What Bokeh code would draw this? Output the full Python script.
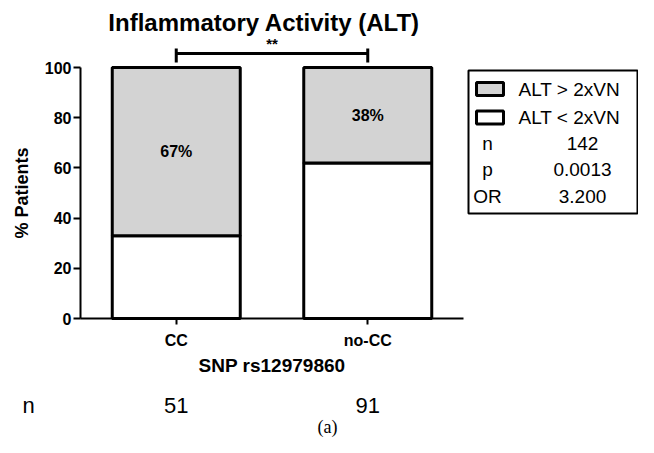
import numpy as np
from bokeh.plotting import figure
from bokeh.models import Range1d, FixedTicker, LinearAxis, ColumnDataSource
from bokeh.core.properties import value
from bokeh.embed import file_html
from bokeh.resources import INLINE

# ---------------- data ----------------
categories = ["CC", "no-CC"]
alt_high_pct = [67, 38]      # % patients ALT > 2xVN
alt_low_pct = [33, 62]       # % patients ALT < 2xVN
n_patients = [51, 91]
y_ticks = [0, 20, 40, 60, 80, 100]
legend_labels = ["ALT > 2xVN", "ALT < 2xVN"]
stats_labels = ["n", "p", "OR"]
stats_values = ["142", "0.0013", "3.200"]
title_text = "Inflammatory Activity  (ALT)"
x_title = "SNP rs12979860"
y_title = "% Patients"
signif_text = "**"
caption_text = "(a)"

# ---------------- geometry (figure pixels) ----------------
W, H = 638, 437
X0_PX, Y0_PX = 80, 318          # pixel of data origin
PX_PER_X, PX_PER_Y = 191.5, 2.51


def dx(px):
    return (px - X0_PX) / PX_PER_X


def dy(py):
    return (Y0_PX - py) / PX_PER_Y


FONT = "Liberation Sans"
GREY = "#d3d3d3"

xs = list(np.arange(len(categories)) + 0.5)
x_max = float(len(categories))

p = figure(width=W, height=H, x_range=Range1d(dx(0), dx(W)), y_range=Range1d(dy(H), dy(0)),
           output_backend="svg", toolbar_location=None, min_border=0,
           x_axis_type=None, y_axis_type=None, outline_line_color=None,
           background_fill_color="white", border_fill_color="white")

# axes at fixed locations
xaxis = LinearAxis(fixed_location=0, bounds=(0, x_max), ticker=FixedTicker(ticks=xs),
                   major_label_overrides={float(x): c for x, c in zip(xs, categories)},
                   axis_label=x_title)
xaxis.axis_line_width = 2
xaxis.major_tick_line_width = 2
xaxis.major_tick_out = 6
xaxis.major_tick_in = 0
xaxis.minor_tick_out = 0
xaxis.minor_tick_in = 0
xaxis.major_label_standoff = 7
xaxis.major_label_text_font = FONT
xaxis.major_label_text_font_style = "bold"
xaxis.major_label_text_font_size = "16px"
xaxis.major_label_text_color = "black"
xaxis.axis_label_text_font = FONT
xaxis.axis_label_text_font_style = "bold"
xaxis.axis_label_text_font_size = "19px"
xaxis.axis_label_text_color = "black"
xaxis.axis_label_standoff = 3
p.add_layout(xaxis, "below")

yaxis = LinearAxis(fixed_location=0, bounds=(0, 100), ticker=FixedTicker(ticks=y_ticks),
                   axis_label=y_title)
yaxis.axis_line_width = 2
yaxis.major_tick_line_width = 2
yaxis.major_tick_out = 7
yaxis.major_tick_in = 0
yaxis.minor_tick_out = 0
yaxis.minor_tick_in = 0
yaxis.major_label_standoff = 2
yaxis.major_label_text_font = FONT
yaxis.major_label_text_font_style = "bold"
yaxis.major_label_text_font_size = "16px"
yaxis.major_label_text_color = "black"
yaxis.axis_label_text_font = FONT
yaxis.axis_label_text_font_style = "bold"
yaxis.axis_label_text_font_size = "18px"
yaxis.axis_label_text_color = "black"
yaxis.axis_label_standoff = 10
p.add_layout(yaxis, "left")

# stacked bars
totals = [lo + hi for lo, hi in zip(alt_low_pct, alt_high_pct)]
src = ColumnDataSource(dict(x=xs, low=alt_low_pct, high=alt_high_pct, total=totals,
                            label=[f"{h}%" for h in alt_high_pct],
                            label_y=[lo + hi / 2 for lo, hi in zip(alt_low_pct, alt_high_pct)]))
BAR_W = 128 / PX_PER_X
p.vbar(x="x", width=BAR_W, bottom=0, top="low", source=src,
       fill_color="white", line_color="black", line_width=3)
p.vbar(x="x", width=BAR_W, bottom="low", top="total", source=src,
       fill_color=GREY, line_color="black", line_width=3)
p.text(x="x", y="label_y", text="label", source=src, text_font=value(FONT),
       text_font_style="bold", text_font_size="16px", text_align="center",
       text_baseline="middle", text_color="black")

# significance bracket between the two groups
yb, ylo, yhi = dy(53), dy(62), dy(48)
p.segment(x0=[xs[0], xs[0], xs[1]], y0=[yb, ylo, ylo],
          x1=[xs[1], xs[0], xs[1]], y1=[yb, yhi, yhi], line_color="black", line_width=3)
p.text(x=[(xs[0] + xs[1]) / 2], y=[dy(51)], text=[signif_text], text_font=value(FONT),
       text_font_style="bold", text_font_size="15px", text_align="center",
       text_baseline="bottom", text_color="black")

# title
p.text(x=[dx(267)], y=[dy(22)], text=[title_text], text_font=value(FONT),
       text_font_style="bold", text_font_size="24px", text_align="center",
       text_baseline="middle", text_color="black")

# n row below the axis
p.text(x=[dx(28)], y=[dy(405)], text=["n"], text_font=value(FONT),
       text_font_size="22px", text_align="center", text_baseline="middle", text_color="black")
p.text(x=xs, y=[dy(405)] * len(xs), text=[str(n) for n in n_patients], text_font=value(FONT),
       text_font_size="22px", text_align="center", text_baseline="middle", text_color="black")

# caption
p.text(x=[dx(327)], y=[dy(436)], text=[caption_text], text_font=value("Liberation Serif"),
       text_font_size="18px", text_align="center", text_baseline="bottom", text_color="black")

# legend box (drawn)
SH = -12
p.quad(left=[dx(468)], right=[dx(637)], top=[dy(70)], bottom=[dy(213)],
       fill_color="white", line_color="black", line_width=2)
sw_fill = [GREY, "white"]
sw_cy = [88.5, 117]
txt_cy = [89, 117]
p.quad(left=[dx(488 + SH)] * 2, right=[dx(515 + SH)] * 2,
       top=[dy(c - 6.5) for c in sw_cy], bottom=[dy(c + 6.5) for c in sw_cy],
       fill_color=sw_fill, line_color="black", line_width=3)
p.text(x=[dx(530 + SH)] * 2, y=[dy(c) for c in txt_cy], text=legend_labels,
       text_font=value(FONT), text_font_size="19px", text_align="left",
       text_baseline="middle", text_color="black")
row_cy = [143, 169, 196]
p.text(x=[dx(499 + SH)] * 3, y=[dy(c) for c in row_cy], text=stats_labels,
       text_font=value(FONT), text_font_size="19px", text_align="center",
       text_baseline="middle", text_color="black")
p.text(x=[dx(594 + SH)] * 3, y=[dy(c) for c in row_cy], text=stats_values,
       text_font=value(FONT), text_font_size="19px", text_align="center",
       text_baseline="middle", text_color="black")

open("out.html", "w").write(file_html(p, INLINE))
